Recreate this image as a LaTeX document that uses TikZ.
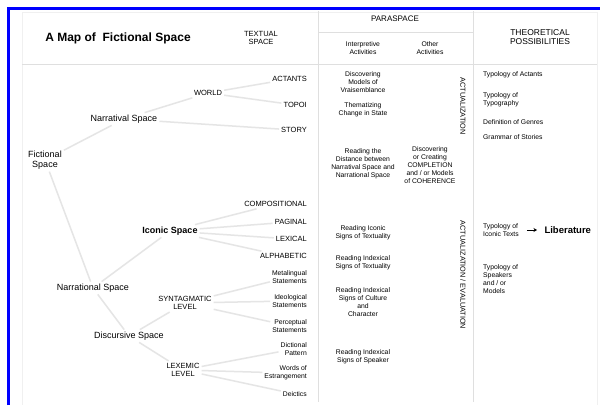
\documentclass[tikz,border=0pt]{standalone}
\usepackage{fontspec}
\setmainfont{Liberation Sans}
\usetikzlibrary{positioning,arrows.meta}

\tikzset{
  branch/.style={draw=gray!20, line width=1.5pt},
  rule/.style={draw=gray!25, line width=0.8pt},
  topic/.style={font=\fontsize{9}{10.5}\selectfont, align=center, inner sep=2pt},
  level/.style={font=\fontsize{7.5}{8.5}\selectfont, align=center, inner sep=2pt},
  capleaf/.style={font=\fontsize{7.5}{8.5}\selectfont, anchor=east, inner sep=2pt},
  leaf/.style={font=\fontsize{6.8}{8}\selectfont, align=right, anchor=east, inner sep=2pt},
  note/.style={font=\fontsize{6.8}{8}\selectfont, align=center, inner sep=1pt},
  possib/.style={font=\fontsize{6.8}{8}\selectfont, align=left, anchor=west, inner sep=1pt},
  vert/.style={font=\fontsize{7.3}{8}\selectfont, rotate=-90, inner sep=1pt},
  head/.style={font=\fontsize{8}{9}\selectfont, align=center},
}

\begin{document}
\begin{tikzpicture}[x=1pt, y=-1pt]
    \useasboundingbox (0,0) rectangle (600,405);
    \fill[white] (0,0) rectangle (600,405);

    % frame and table rules
    \draw[gray!12, line width=0.6pt] (22,405) -- (22,12) -- (597,12) -- (597,405);
    \draw[blue, line width=3pt] (8.5,405) -- (8.5,8) -- (600,8);
    \draw[rule] (22,64) -- (597,64);
    \draw[rule] (318,32) -- (473,32);
    \draw[rule] (318,11) -- (318,402);
    \draw[rule] (473,11) -- (473,402);

    % headers
    \node[font=\fontsize{12}{14}\selectfont\bfseries] (title) at (118,38) {A Map of\ \ Fictional Space};
    \node[head, font=\fontsize{7.5}{8.5}\selectfont] (textual) at (261,38) {TEXTUAL\\SPACE};
    \node[head] (paraspace) at (395,19) {PARASPACE};
    \node[note] (interp) at (363,48) {Interpretive\\Activities};
    \node[note] (other) at (430,48) {Other\\Activities};
    \node[head, font=\fontsize{8.5}{9.5}\selectfont] (theory) at (540,37) {THEORETICAL\\POSSIBILITIES};

    % textual space tree
    \node[topic] (fictional) at (45,160) {Fictional\\Space};
    \node[topic] (narratival) at (124,119) {Narratival Space};
    \node[level] (world) at (208,93) {WORLD};
    \node[capleaf] (actants) at (309,79) {ACTANTS};
    \node[capleaf] (topoi) at (309,105) {TOPOI};
    \node[capleaf] (story) at (309,130) {STORY};

    \node[topic, font=\fontsize{9}{10.5}\selectfont\bfseries] (iconic) at (170,231) {Iconic Space};
    \node[capleaf] (compositional) at (309,204) {COMPOSITIONAL};
    \node[capleaf] (paginal) at (309,222) {PAGINAL};
    \node[capleaf] (lexical) at (309,239) {LEXICAL};
    \node[capleaf] (alphabetic) at (309,256) {ALPHABETIC};

    \node[topic] (narrational) at (93,288) {Narrational Space};
    \node[level] (syntagmatic) at (185,303) {SYNTAGMATIC\\LEVEL};
    \node[leaf] (metalingual) at (309,277) {Metalingual\\Statements};
    \node[leaf] (ideological) at (309,301) {Ideological\\Statements};
    \node[leaf] (perceptual) at (309,326) {Perceptual\\Statements};

    \node[topic] (discursive) at (129,336) {Discursive Space};
    \node[level] (lexemic) at (183,370) {LEXEMIC\\LEVEL};
    \node[leaf] (dictional) at (309,349) {Dictional\\Pattern};
    \node[leaf] (words) at (309,373) {Words of\\Estrangement};
    \node[leaf] (deictics) at (309,394) {Deictics};

    \draw[branch] (fictional) -- (narratival);
    \draw[branch] (fictional) -- (narrational);
    \draw[branch] (narratival) -- (world);
    \draw[branch] (narratival) -- (story);
    \draw[branch] (world) -- (actants);
    \draw[branch] (world) -- (topoi);
    \draw[branch] (narrational) -- (iconic);
    \draw[branch] (narrational) -- (discursive);
    \foreach \leafname in {compositional,paginal,lexical,alphabetic}
        \draw[branch] (iconic) -- (\leafname);
    \draw[branch] (discursive) -- (syntagmatic);
    \draw[branch] (discursive) -- (lexemic);
    \foreach \leafname in {metalingual,ideological,perceptual}
        \draw[branch] (syntagmatic) -- (\leafname);
    \foreach \leafname in {dictional,words,deictics}
        \draw[branch] (lexemic) -- (\leafname);

    % paraspace
    \node[note] (models) at (363,82) {Discovering\\Models of\\Vraisemblance};
    \node[note] (thematizing) at (363,110) {Thematizing\\Change in State};
    \node[note] (distance) at (363,164) {Reading the\\Distance between\\Narratival Space and\\Narrational Space};
    \node[note] (completion) at (430,165) {Discovering\\or Creating\\COMPLETION\\and / or Models\\of COHERENCE};
    \node[vert] (actual) at (463,106) {ACTUALIZATION};
    \node[note] (iconsigns) at (363,233) {Reading Iconic\\Signs of Textuality};
    \node[note] (indexsigns) at (363,263) {Reading Indexical\\Signs of Textuality};
    \node[note] (culture) at (363,302) {Reading Indexical\\Signs of Culture\\and\\Character};
    \node[note] (speaker) at (363,357) {Reading Indexical\\Signs of Speaker};
    \node[vert] (evaluation) at (463,275) {ACTUALIZATION / EVALUATION};

    % theoretical possibilities
    \node[possib] (typactants) at (482,75) {Typology of Actants};
    \node[possib] (typography) at (482,100) {Typology of\\Typography};
    \node[possib] (genres) at (482,122) {Definition of Genres};
    \node[possib] (grammar) at (482,137) {Grammar of Stories};
    \node[possib] (icontexts) at (482,230) {Typology of\\Iconic Texts};
    \node[font=\fontsize{9.5}{11}\selectfont\bfseries, anchor=west] (liberature) at (541,230) {Liberature};
    \node[possib] (speakers) at (482,279) {Typology of\\Speakers\\and / or\\Models};
    \draw[-{Stealth[length=3.5pt,width=4pt]}, line width=1pt, shorten <=7pt, shorten >=4pt] (icontexts) -- (liberature);
\end{tikzpicture}
\end{document}
